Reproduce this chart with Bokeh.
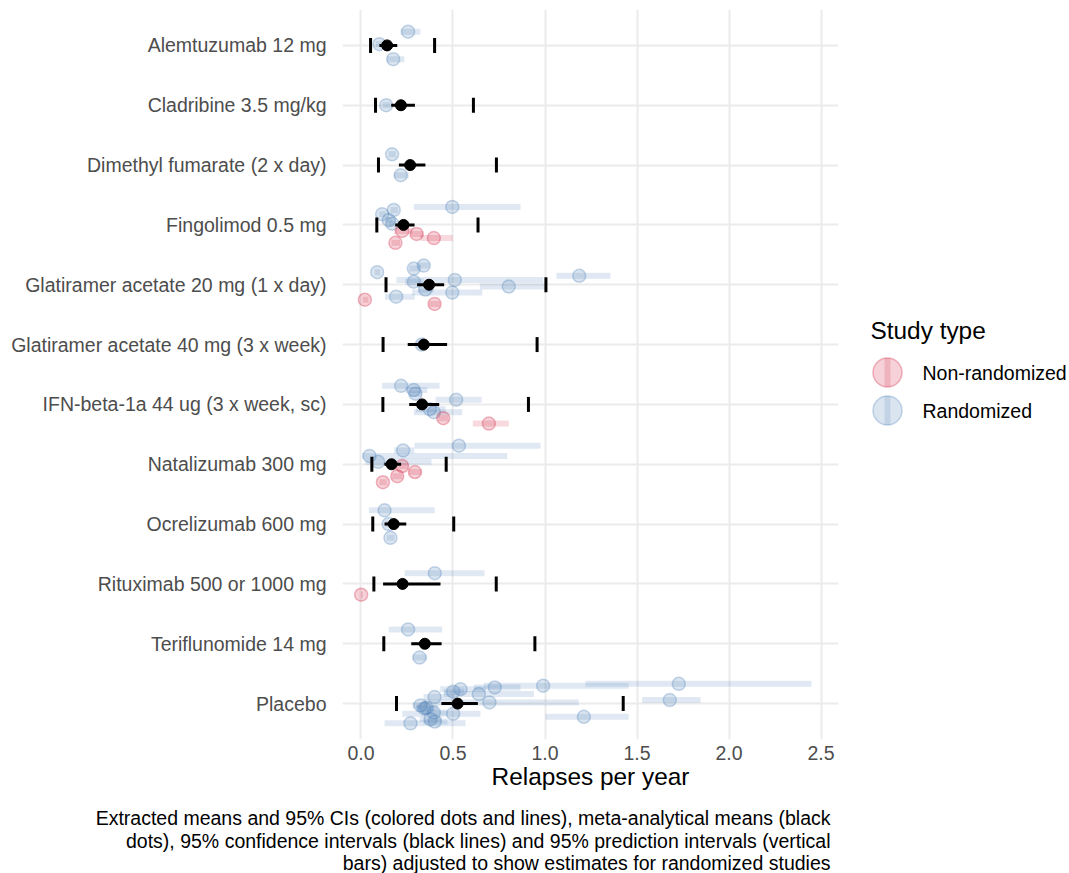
from bokeh.plotting import figure
from bokeh.models import ColumnDataSource, Range1d, FixedTicker, NumeralTickFormatter
from bokeh.layouts import column, row
from bokeh.core.properties import value
from bokeh.embed import file_html
from bokeh.resources import INLINE

FONT = "Liberation Sans"

# Treatments, top to bottom
treatments = [
    "Alemtuzumab 12 mg",
    "Cladribine 3.5 mg/kg",
    "Dimethyl fumarate (2 x day)",
    "Fingolimod 0.5 mg",
    "Glatiramer acetate 20 mg (1 x day)",
    "Glatiramer acetate 40 mg (3 x week)",
    "IFN-beta-1a 44 ug (3 x week, sc)",
    "Natalizumab 300 mg",
    "Ocrelizumab 600 mg",
    "Rituximab 500 or 1000 mg",
    "Teriflunomide 14 mg",
    "Placebo",
]

# Meta-analytical means, 95% CIs and 95% prediction intervals
meta_mean = [0.142, 0.217, 0.267, 0.231, 0.370, 0.341, 0.332, 0.166, 0.178, 0.226, 0.347, 0.525]
meta_lo = [0.100, 0.164, 0.206, 0.186, 0.305, 0.254, 0.262, 0.127, 0.128, 0.120, 0.273, 0.437]
meta_hi = [0.197, 0.293, 0.350, 0.291, 0.452, 0.468, 0.425, 0.218, 0.246, 0.432, 0.438, 0.635]
pred_lo = [0.052, 0.079, 0.095, 0.086, 0.136, 0.120, 0.119, 0.059, 0.064, 0.070, 0.124, 0.193]
pred_hi = [0.400, 0.611, 0.736, 0.636, 1.005, 0.957, 0.910, 0.463, 0.504, 0.735, 0.945, 1.425]

R = "Randomized"
N = "Non-randomized"
study_types = [N, R]
type_colors = {N: "#d01c3c", R: "#4a7fb5"}

# Extracted study means and 95% CIs; jitter is the vertical offset within a row
study_treatment = (
    ["Alemtuzumab 12 mg"] * 3
    + ["Cladribine 3.5 mg/kg"] * 1
    + ["Dimethyl fumarate (2 x day)"] * 2
    + ["Fingolimod 0.5 mg"] * 9
    + ["Glatiramer acetate 20 mg (1 x day)"] * 12
    + ["Glatiramer acetate 40 mg (3 x week)"] * 1
    + ["IFN-beta-1a 44 ug (3 x week, sc)"] * 8
    + ["Natalizumab 300 mg"] * 8
    + ["Ocrelizumab 600 mg"] * 3
    + ["Rituximab 500 or 1000 mg"] * 2
    + ["Teriflunomide 14 mg"] * 2
    + ["Placebo"] * 18
)
study_type = (
    [R, R, R]
    + [R]
    + [R, R]
    + [R, R, R, R, R, N, N, N, N]
    + [R, R, R, R, R, R, R, R, R, R, N, N]
    + [R]
    + [R, R, R, R, R, R, N, N]
    + [R, R, R, R, N, N, N, N]
    + [R, R, R]
    + [R, N]
    + [R, R]
    + [R] * 18
)
study_mean = [
    0.256, 0.100, 0.175,
    0.137,
    0.169, 0.216,
    0.496, 0.178, 0.115, 0.151, 0.170, 0.224, 0.302, 0.396, 0.187,
    0.088, 0.287, 0.341, 0.510, 0.287, 1.186, 0.803, 0.350, 0.496, 0.191, 0.021, 0.400,
    0.330,
    0.218, 0.287, 0.296, 0.517, 0.374, 0.396, 0.447, 0.695,
    0.532, 0.229, 0.046, 0.093, 0.224, 0.293, 0.197, 0.119,
    0.128, 0.150, 0.160,
    0.401, 0.001,
    0.256, 0.318,
    1.727, 0.990, 0.727, 0.541, 0.501, 0.640, 0.400, 1.678, 0.698,
    0.323, 0.356, 0.345, 0.396, 0.501, 1.211, 0.378, 0.401, 0.269,
]
study_lo = [
    0.215, 0.080, 0.142,
    0.118,
    0.150, 0.178,
    0.287, 0.160, 0.098, 0.132, 0.150, 0.180, 0.270, 0.323, 0.165,
    0.075, 0.262, 0.312, 0.193, 0.240, 1.062, 0.646, 0.310, 0.278, 0.130, 0.010, 0.370,
    0.300,
    0.115, 0.242, 0.265, 0.405, 0.300, 0.287, 0.420, 0.608,
    0.291, 0.180, 0.006, 0.024, 0.195, 0.260, 0.170, 0.100,
    0.043, 0.132, 0.140,
    0.238, 0.000,
    0.151, 0.280,
    1.220, 0.667, 0.613, 0.430, 0.450, 0.450, 0.340, 1.528, 0.341,
    0.280, 0.300, 0.300, 0.330, 0.224, 1.003, 0.320, 0.340, 0.128,
]
study_hi = [
    0.323, 0.130, 0.236,
    0.160,
    0.190, 0.260,
    0.867, 0.200, 0.135, 0.172, 0.192, 0.280, 0.340, 0.499, 0.212,
    0.104, 0.315, 0.372, 0.990, 0.340, 1.356, 1.003, 0.395, 0.659, 0.292, 0.040, 0.430,
    0.360,
    0.427, 0.360, 0.330, 0.655, 0.460, 0.550, 0.475, 0.803,
    0.976, 0.290, 0.795, 0.383, 0.255, 0.330, 0.225, 0.140,
    0.401, 0.170, 0.182,
    0.671, 0.010,
    0.441, 0.360,
    2.448, 1.455, 0.867, 0.680, 0.560, 0.940, 0.510, 1.845, 1.184,
    0.370, 0.420, 0.400, 0.470, 0.649, 1.455, 0.440, 0.470, 0.568,
]
study_jitter = [
    0.23, 0.02, -0.23,
    0.00,
    0.18, -0.17,
    0.30, 0.25, 0.18, 0.08, 0.02, -0.10, -0.15, -0.22, -0.30,
    0.21, 0.27, 0.32, 0.08, 0.05, 0.15, -0.03, -0.08, -0.13, -0.20, -0.25, -0.32,
    0.00,
    0.31, 0.24, 0.18, 0.08, -0.08, -0.13, -0.23, -0.32,
    0.31, 0.23, 0.14, 0.04, -0.03, -0.13, -0.20, -0.30,
    0.23, 0.00, -0.23,
    0.18, -0.18,
    0.24, -0.23,
    0.33, 0.30, 0.27, 0.24, 0.20, 0.16, 0.11, 0.06, 0.02,
    -0.03, -0.07, -0.08, -0.15, -0.17, -0.22, -0.26, -0.30, -0.33,
]

x_ticks = [0.0, 0.5, 1.0, 1.5, 2.0, 2.5]
caption_lines = [
    "Extracted means and 95% CIs (colored dots and lines), meta-analytical means (black",
    "dots), 95% confidence intervals (black lines) and 95% prediction intervals (vertical",
    "bars) adjusted to show estimates for randomized studies",
]

# shared styling of the study marks
DOT_FILL_ALPHA = 0.2
DOT_LINE_ALPHA = 0.3
BAND_ALPHA = 0.17

# Row positions: first treatment at the top
n_rows = len(treatments)
row_of = {t: n_rows - i for i, t in enumerate(treatments)}
meta_y = [row_of[t] for t in treatments]

study_src = ColumnDataSource(dict(
    mean=study_mean,
    lo=study_lo,
    hi=study_hi,
    y=[row_of[t] + j for t, j in zip(study_treatment, study_jitter)],
    color=[type_colors[s] for s in study_type],
))
meta_src = ColumnDataSource(dict(
    mean=meta_mean, lo=meta_lo, hi=meta_hi,
    plo=pred_lo, phi=pred_hi,
    y=meta_y,
    y0=[y - 0.125 for y in meta_y],
    y1=[y + 0.125 for y in meta_y],
))

MAIN_W, MAIN_H = 850, 800
TOP, BOTTOM = 9, 61
p = figure(
    width=MAIN_W, height=MAIN_H,
    x_range=Range1d(-0.1005, 2.595),
    y_range=Range1d(0.4, n_rows + 0.6),
    output_backend="svg", toolbar_location=None,
    min_border_left=342, min_border_right=12,
    min_border_top=TOP, min_border_bottom=BOTTOM,
)
p.outline_line_color = None
p.background_fill_color = "white"
p.border_fill_color = "white"

# study-level estimates
p.segment(x0="lo", y0="y", x1="hi", y1="y", source=study_src,
          line_color="color", line_alpha=BAND_ALPHA, line_width=6, line_cap="butt")
p.scatter(x="mean", y="y", source=study_src, size=13, marker="circle",
          fill_color="color", fill_alpha=DOT_FILL_ALPHA,
          line_color="color", line_alpha=DOT_LINE_ALPHA, line_width=1.5)

# meta-analytical summaries
p.segment(x0="plo", y0="y0", x1="plo", y1="y1", source=meta_src,
          line_color="black", line_width=3, line_cap="butt")
p.segment(x0="phi", y0="y0", x1="phi", y1="y1", source=meta_src,
          line_color="black", line_width=3, line_cap="butt")
p.segment(x0="lo", y0="y", x1="hi", y1="y", source=meta_src,
          line_color="black", line_width=3, line_cap="butt")
p.scatter(x="mean", y="y", source=meta_src, size=11, marker="circle",
          fill_color="black", line_color="black")

# axes
p.xaxis.ticker = FixedTicker(ticks=x_ticks)
p.xaxis.formatter = NumeralTickFormatter(format="0.0")
p.xaxis.axis_label = "Relapses per year"
p.xaxis.axis_label_text_font = FONT
p.xaxis.axis_label_text_font_size = "24.4px"
p.xaxis.axis_label_text_font_style = "normal"
p.xaxis.axis_label_text_color = "black"
p.xaxis.axis_label_standoff = 0
p.xaxis.major_label_standoff = 6

p.yaxis.ticker = FixedTicker(ticks=meta_y)
p.yaxis.major_label_overrides = {row_of[t]: t for t in treatments}
p.yaxis.major_label_standoff = 16

for ax in (p.xaxis[0], p.yaxis[0]):
    ax.axis_line_color = None
    ax.major_tick_line_color = None
    ax.minor_tick_line_color = None
    ax.major_tick_out = 0
    ax.major_tick_in = 0
    ax.major_label_text_font = FONT
    ax.major_label_text_font_size = "19.5px"
    ax.major_label_text_color = "#4d4d4d"

p.xgrid.ticker = FixedTicker(ticks=x_ticks)
p.ygrid.ticker = FixedTicker(ticks=meta_y)
for g in (p.xgrid[0], p.ygrid[0]):
    g.grid_line_color = "#ebebeb"
    g.grid_line_width = 2

# legend panel; its frame spans the same rows of pixels as the chart frame,
# so the y range is given in page pixels
LEG_X0 = MAIN_W
leg = figure(
    width=1069 - MAIN_W, height=MAIN_H,
    x_range=Range1d(LEG_X0, 1069), y_range=Range1d(MAIN_H - BOTTOM, TOP),
    output_backend="svg", toolbar_location=None,
    min_border_left=0, min_border_right=0,
    min_border_top=TOP, min_border_bottom=BOTTOM,
    x_axis_location=None, y_axis_location=None,
)
leg.outline_line_color = None
leg.xgrid.visible = False
leg.ygrid.visible = False

leg.text(x=[870], y=[330], text=["Study type"], text_font=value(FONT),
         text_font_size="24.4px", text_color="black",
         text_align="left", text_baseline="middle")
key_y = [372, 410]
key_x = [887, 887]
leg_src = ColumnDataSource(dict(
    x=key_x, y=key_y,
    y0=[y - 14.5 for y in key_y], y1=[y + 14.5 for y in key_y],
    color=[type_colors[s] for s in study_types],
    label=study_types,
    lx=[922, 922],
))
leg.segment(x0="x", y0="y0", x1="x", y1="y1", source=leg_src,
            line_color="color", line_alpha=BAND_ALPHA, line_width=6, line_cap="butt")
leg.scatter(x="x", y="y", source=leg_src, size=29, marker="circle",
            fill_color="color", fill_alpha=DOT_FILL_ALPHA,
            line_color="color", line_alpha=DOT_LINE_ALPHA, line_width=1.5)
leg.text(x="lx", y="y", text="label", source=leg_src, text_font=value(FONT),
         text_font_size="19.5px", text_color="black",
         text_align="left", text_baseline="middle")

# caption strip under the chart
CAP_H = 873 - MAIN_H
cap = figure(
    width=1069, height=CAP_H,
    x_range=Range1d(0, 1069), y_range=Range1d(873, MAIN_H),
    output_backend="svg", toolbar_location=None,
    min_border=0, x_axis_location=None, y_axis_location=None,
)
cap.outline_line_color = None
cap.xgrid.visible = False
cap.ygrid.visible = False
cap.text(x=[830, 830, 830], y=[817, 840, 862], text=caption_lines,
         text_font=value(FONT), text_font_size="19.5px", text_color="black",
         text_align="right", text_baseline="middle")

layout = column(row(p, leg), cap)
open("out.html", "w").write(file_html(layout, INLINE))
